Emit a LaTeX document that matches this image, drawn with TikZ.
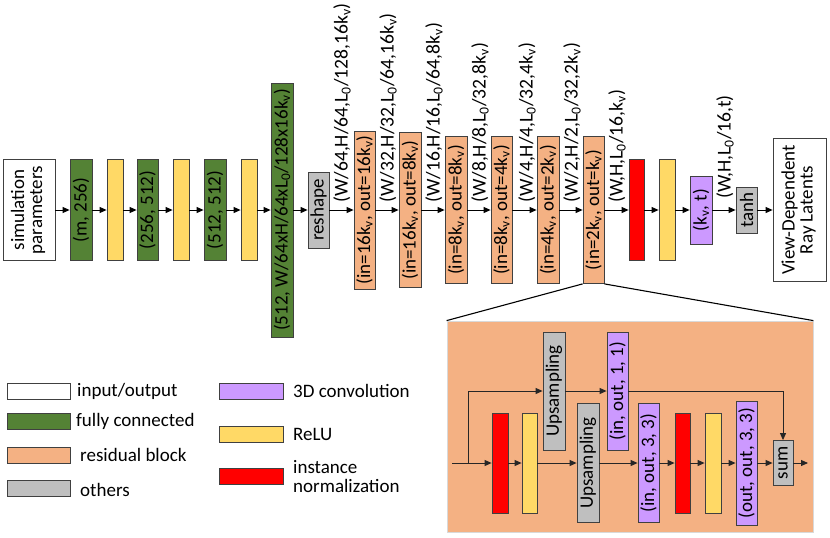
\documentclass[tikz,border=0pt]{standalone}
\usepackage{fontspec}
\setmainfont{Carlito}
\usetikzlibrary{arrows.meta}
\definecolor{cgreen}{HTML}{548235}
\definecolor{cyellow}{HTML}{FFD966}
\definecolor{corange}{HTML}{F4B183}
\definecolor{cgray}{HTML}{BFBFBF}
\definecolor{cred}{HTML}{FF0000}
\definecolor{cpurple}{HTML}{CC99FF}
\definecolor{cborder}{HTML}{404040}
\newcommand\fs{\fontsize{19}{21}\selectfont}
\newcommand\fl{\fontsize{19.6}{22}\selectfont}
\newcommand\kvv{k\textsubscript{v}}
\newcommand\Lzero{L\textsubscript{0}}
\begin{document}
\begin{tikzpicture}[x=1pt,y=-1pt,
  blk/.style={draw=cborder,line width=0.8pt,inner sep=0pt,font=\fs},
  arr/.style={-{Triangle[length=7pt,width=6pt]},line width=0.9pt,draw=black},
  iarr/.style={-{Triangle[length=7pt,width=6pt]},line width=0.9pt,draw=black!85},
  lbl/.style={font=\fl,inner sep=0pt,rotate=90,anchor=west},
  leg/.style={font=\fs,inner sep=0pt,anchor=west,align=left}]
\useasboundingbox (0,0) rectangle (830,538);
% main row
\node[blk,fill=white,minimum width=52pt,minimum height=101pt] (sim) at (29,210) {\rotatebox{90}{\begin{tabular}{@{}c@{}}simulation\\[-3pt]parameters\end{tabular}}};
\node[blk,fill=cgreen,minimum width=22pt,minimum height=101pt] (fc1) at (81,210) {\rotatebox{90}{(m, 256)}};
\node[blk,fill=cyellow,minimum width=16pt,minimum height=101pt] (re1) at (115,210) {};
\node[blk,fill=cgreen,minimum width=21pt,minimum height=101pt] (fc2) at (147.5,210) {\rotatebox{90}{(256, 512)}};
\node[blk,fill=cyellow,minimum width=16pt,minimum height=101pt] (re2) at (181,210) {};
\node[blk,fill=cgreen,minimum width=22pt,minimum height=101pt] (fc3) at (215,210) {\rotatebox{90}{(512, 512)}};
\node[blk,fill=cyellow,minimum width=16pt,minimum height=101pt] (re3) at (249,210) {};
\node[blk,fill=cgreen,minimum width=22pt,minimum height=254pt] (fc4) at (282,210) {\rotatebox{90}{(512, W/64xH/64x\Lzero/128x16\kvv)}};
\node[blk,fill=cgray,minimum width=21pt,minimum height=76pt] (resh) at (318.5,210) {\rotatebox{90}{reshape}};
\node[blk,fill=corange,minimum width=21pt,minimum height=158pt] (rb1) at (364.5,210) {\rotatebox{90}{(in=16\kvv, out=16\kvv)}};
\node[blk,fill=corange,minimum width=22pt,minimum height=155pt] (rb2) at (410,210) {\rotatebox{90}{(in=16\kvv, out=8\kvv)}};
\node[blk,fill=corange,minimum width=22pt,minimum height=147pt] (rb3) at (456,210) {\rotatebox{90}{(in=8\kvv, out=8\kvv)}};
\node[blk,fill=corange,minimum width=21pt,minimum height=147pt] (rb4) at (501.5,210) {\rotatebox{90}{(in=8\kvv, out=4\kvv)}};
\node[blk,fill=corange,minimum width=22pt,minimum height=147pt] (rb5) at (548,210) {\rotatebox{90}{(in=4\kvv, out=2\kvv)}};
\node[blk,fill=corange,minimum width=21pt,minimum height=147pt] (rb6) at (593.5,210) {\rotatebox{90}{(in=2\kvv, out=\kvv)}};
\node[blk,fill=cred,minimum width=15pt,minimum height=101pt] (in1) at (636.5,210) {};
\node[blk,fill=cyellow,minimum width=16pt,minimum height=101pt] (re4) at (667,210) {};
\node[blk,fill=cpurple,minimum width=22pt,minimum height=68pt] (cv1) at (701,210) {\rotatebox{90}{(\kvv, t)}};
\node[blk,fill=cgray,minimum width=21pt,minimum height=46pt] (tanh) at (746.5,210) {\rotatebox{90}{tanh}};
\node[blk,fill=white,minimum width=53pt,minimum height=143pt] (out) at (799.5,210) {\rotatebox{90}{\begin{tabular}{@{}c@{}}View-Dependent\\[-3pt]Ray Latents\end{tabular}}};
\foreach \a/\b in {sim/fc1,fc1/re1,re1/fc2,fc2/re2,re2/fc3,fc3/re3,re3/fc4,fc4/resh,resh/rb1,rb1/rb2,rb2/rb3,rb3/rb4,rb4/rb5,rb5/rb6,rb6/in1,in1/re4,re4/cv1,cv1/tanh,tanh/out}
  \draw[arr] (\a) -- (\b);
% labels
\node[lbl] (l1) at (342,203) {(W/64,H/64,\Lzero/128,16\kvv)};
\node[lbl] (l2) at (388,203) {(W/32,H/32,\Lzero/64,16\kvv)};
\node[lbl] (l3) at (434,203) {(W/16,H/16,\Lzero/64,8\kvv)};
\node[lbl] (l4) at (480,203) {(W/8,H/8,\Lzero/32,8\kvv)};
\node[lbl] (l5) at (527,203) {(W/4,H/4,\Lzero/32,4\kvv)};
\node[lbl] (l6) at (572,203) {(W/2,H/2,\Lzero/32,2\kvv)};
\node[lbl] (l7) at (617,203) {(W,H,\Lzero/16,\kvv)};
\node[lbl] (l8) at (725,199) {(W,H,\Lzero/16,t)};
% inset
\node[draw=black!15,line width=0.8pt,fill=corange,minimum width=366pt,minimum height=211pt,inner sep=0pt] (bg) at (630,426.5) {};
\draw[line width=1.1pt] (rb6.south west) -- (bg.north west);
\draw[line width=1.1pt] (rb6.south east) -- (bg.north east);
\node[blk,fill=cred,minimum width=16pt,minimum height=100pt] (ir1) at (500,463) {};
\node[blk,fill=cyellow,minimum width=15pt,minimum height=100pt] (iy1) at (529.5,463) {};
\node[blk,fill=cgray,minimum width=22pt,minimum height=118pt] (up1) at (554,391) {\rotatebox{90}{Upsampling}};
\node[blk,fill=cpurple,minimum width=21pt,minimum height=118pt] (c11) at (617.5,391) {\rotatebox{90}{(in, out, 1, 1)}};
\node[blk,fill=cgray,minimum width=22pt,minimum height=119pt] (up2) at (588,463) {\rotatebox{90}{Upsampling}};
\node[blk,fill=cpurple,minimum width=21pt,minimum height=119pt] (c33a) at (648.5,463) {\rotatebox{90}{(in, out, 3, 3)}};
\node[blk,fill=cred,minimum width=15pt,minimum height=100pt] (ir2) at (682.5,463) {};
\node[blk,fill=cyellow,minimum width=16pt,minimum height=100pt] (iy2) at (713,463) {};
\node[blk,fill=cpurple,minimum width=21pt,minimum height=124pt] (c33b) at (746.5,463) {\rotatebox{90}{(out, out, 3, 3)}};
\node[blk,fill=cgray,minimum width=20pt,minimum height=45pt] (sum) at (783,463) {\rotatebox{90}{sum}};
\coordinate (iin) at (452,463);
\coordinate (ibr) at (468,463);
\coordinate (iout) at (808,463);
\draw[iarr] (iin) -- (ir1);
\draw[iarr] (ibr) |- (up1);
\draw[iarr] (up1) -- (c11);
\draw[iarr] (c11.east) -| (sum.north);
\foreach \a/\b in {ir1/iy1,iy1/up2,up2/c33a,c33a/ir2,ir2/iy2,iy2/c33b,c33b/sum}
  \draw[iarr] (\a) -- (\b);
\draw[iarr] (sum) -- (iout);
% legend
\node[blk,fill=white,minimum width=63pt,minimum height=16pt] (k1) at (38.5,391) {};
\node[leg] (t1) at (77,391) {input/output};
\node[blk,fill=cgreen,minimum width=63pt,minimum height=16pt] (k2) at (38.5,421) {};
\node[leg] (t2) at (76,421) {fully connected};
\node[blk,fill=corange,minimum width=63pt,minimum height=16pt] (k3) at (38.5,455) {};
\node[leg] (t3) at (80,455) {residual block};
\node[blk,fill=cgray,minimum width=63pt,minimum height=16pt] (k4) at (38.5,488) {};
\node[leg] (t4) at (80,490) {others};
\node[blk,fill=cpurple,minimum width=64pt,minimum height=16pt] (k5) at (251,391) {};
\node[leg] (t5) at (293,391) {3D convolution};
\node[blk,fill=cyellow,minimum width=64pt,minimum height=16pt] (k6) at (251,434) {};
\node[leg] (t6) at (293,434) {ReLU};
\node[blk,fill=cred,minimum width=64pt,minimum height=16pt] (k7) at (251,476) {};
\node[leg] (t7) at (293,477) {instance\\[-2pt]normalization};
\end{tikzpicture}
\end{document}
